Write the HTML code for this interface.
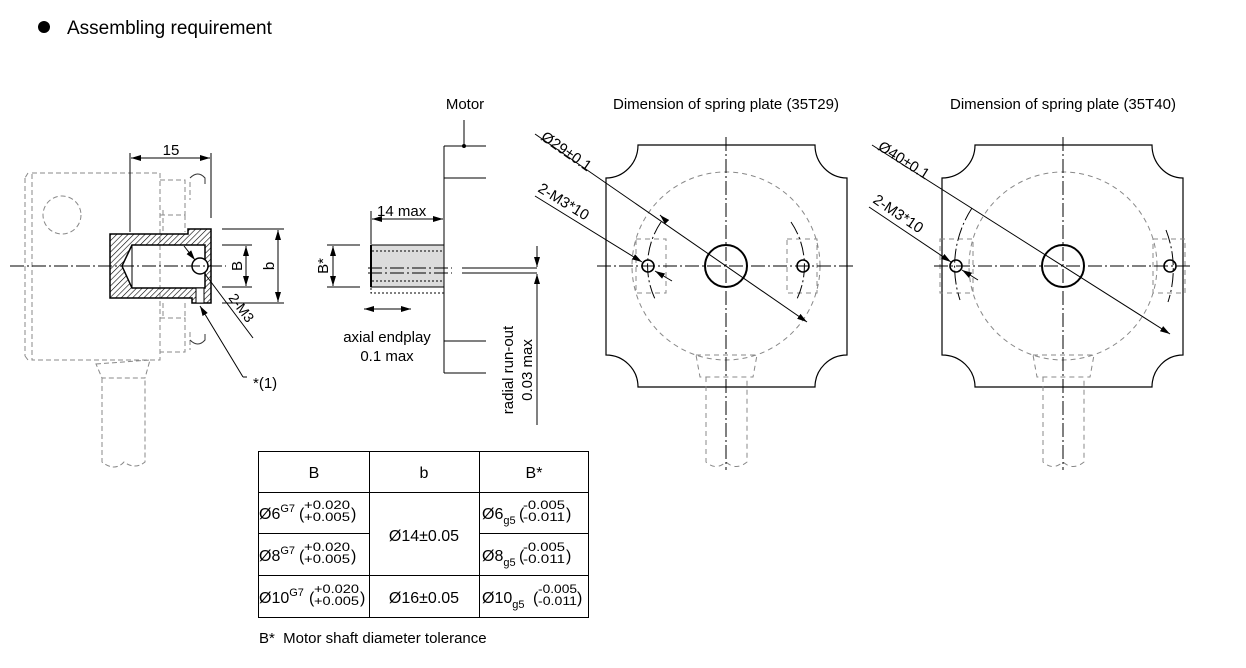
<!DOCTYPE html>
<html><head><meta charset="utf-8">
<style>
html,body{margin:0;padding:0;background:#fff;}
svg{display:block;font-family:"Liberation Sans",Arial,sans-serif;}
</style></head><body>
<svg width="1246" height="668" viewBox="0 0 1246 668" xmlns="http://www.w3.org/2000/svg">
<defs>
<pattern id="h" patternUnits="userSpaceOnUse" width="4" height="4" patternTransform="rotate(45)">
<line x1="0" y1="0" x2="0" y2="4" stroke="#000" stroke-width="1.2"/>
</pattern>
<marker id="a" markerWidth="10" markerHeight="6" refX="10" refY="3" orient="auto" markerUnits="userSpaceOnUse">
<path d="M0,0 L10,3 L0,6 z" fill="#000"/></marker>
<marker id="as" markerWidth="10" markerHeight="6" refX="0" refY="3" orient="auto" markerUnits="userSpaceOnUse">
<path d="M10,0 L0,3 L10,6 z" fill="#000"/></marker>
</defs>

<circle cx="44" cy="27" r="6" fill="#000"/>
<text x="67" y="34" font-size="19">Assembling requirement</text>

<!-- LEFT VIEW -->
<g fill="none" stroke="#888" stroke-width="1" stroke-dasharray="5,3">
<rect x="32" y="173" width="128" height="187"/>
<line x1="25" y1="178" x2="25" y2="356"/>
<path d="M28,173 L25,178 M28,360 L25,356"/>
<circle cx="62" cy="215" r="19"/>
<path d="M160,180 L185,180 L185,215 L160,215 M163,210 V 232 M185,215 V232"/>
<path d="M160,318 L185,318 L185,352 L160,352 M163,303 V318 M185,303 V318"/>
<path d="M190,182 L190,200 M190,332 L190,350"/>
<path d="M96,364 L150,360 L145,378 L102,378 Z"/>
<path d="M102,378 L102,462 Q115,472 124,462 Q135,470 145,462 L145,378"/>
</g>
<path d="M190,178 q8,-8 15,0 v6 M190,340 q8,8 15,0 v-6" fill="none" stroke="#333" stroke-width="1"/>
<path d="M110,234 L188,234 L188,229 L211,229 L211,303 L192,303 L192,298 L110,298 Z M132,245 L122,266 L132,288 L205,288 L205,245 Z" fill="url(#h)" fill-rule="evenodd" stroke="#000" stroke-width="1.5"/>
<rect x="196" y="288" width="8" height="15" fill="#fff" stroke="#000" stroke-width="1"/>
<line x1="132" y1="245" x2="132" y2="288" stroke="#000" stroke-width="1"/>
<circle cx="200" cy="266" r="8" fill="#fff" stroke="#000" stroke-width="1.5"/>
<line x1="10" y1="266" x2="226" y2="266" stroke="#000" stroke-width="1" stroke-dasharray="14,3,2,3"/>
<g stroke="#000" stroke-width="1" fill="none">
<line x1="130" y1="153" x2="130" y2="232"/>
<line x1="211" y1="153" x2="211" y2="218"/>
<line x1="131" y1="158" x2="210" y2="158" marker-start="url(#as)" marker-end="url(#a)"/>
<line x1="222" y1="245" x2="252" y2="245"/>
<line x1="222" y1="287" x2="252" y2="287"/>
<line x1="246" y1="246" x2="246" y2="286" marker-start="url(#as)" marker-end="url(#a)"/>
<line x1="222" y1="229" x2="284" y2="229"/>
<line x1="222" y1="303" x2="284" y2="303"/>
<line x1="278" y1="230" x2="278" y2="302" marker-start="url(#as)" marker-end="url(#a)"/>
<line x1="184" y1="246" x2="195" y2="260" marker-end="url(#a)"/>
<line x1="205" y1="274" x2="253" y2="338"/>
<line x1="200" y1="306" x2="243" y2="377" marker-start="url(#as)"/>
<line x1="243" y1="377" x2="247" y2="377"/>
</g>
<text x="171" y="155" font-size="15" text-anchor="middle">15</text>
<text transform="translate(242,266) rotate(-90)" font-size="15" text-anchor="middle">B</text>
<text transform="translate(274,266) rotate(-90)" font-size="15" text-anchor="middle">b</text>
<text transform="translate(228,298) rotate(53)" font-size="14">2-M3</text>
<text x="253" y="388" font-size="15">*(1)</text>

<!-- MIDDLE VIEW -->
<text x="465" y="109" font-size="15" text-anchor="middle">Motor</text>
<g stroke="#000" stroke-width="1" fill="none">
<line x1="464" y1="120" x2="464" y2="146"/>
<line x1="444" y1="146" x2="444" y2="373"/>
<line x1="444" y1="146" x2="486" y2="146"/>
<line x1="444" y1="178" x2="486" y2="178"/>
<line x1="444" y1="341" x2="486" y2="341"/>
<line x1="444" y1="373" x2="486" y2="373"/>
</g>
<circle cx="464" cy="146" r="2" fill="#000"/>
<rect x="371" y="245" width="73" height="42" fill="#dcdcdc" stroke="#000" stroke-width="1"/>
<line x1="371" y1="245" x2="371" y2="287" stroke="#000" stroke-width="2"/>
<g stroke="#000" stroke-width="1" fill="none">
<line x1="372" y1="251" x2="444" y2="251" stroke-dasharray="2,2"/>
<line x1="372" y1="281" x2="444" y2="281" stroke-dasharray="2,2"/>
<path d="M371,288 V293 H444" stroke-dasharray="2,2"/>
<line x1="368" y1="268" x2="452" y2="268" stroke-dasharray="14,3,2,3"/>
<line x1="368" y1="273" x2="452" y2="273" stroke-dasharray="14,3,2,3"/>
<line x1="462" y1="268" x2="537" y2="268"/>
<line x1="462" y1="273" x2="537" y2="273"/>
<line x1="537" y1="246" x2="537" y2="267" marker-end="url(#a)"/>
<line x1="537" y1="425" x2="537" y2="274" marker-end="url(#a)"/>
<line x1="371" y1="211" x2="371" y2="244"/>
<line x1="372" y1="219" x2="443" y2="219" marker-start="url(#as)" marker-end="url(#a)"/>
<line x1="327" y1="245" x2="360" y2="245"/>
<line x1="327" y1="287" x2="360" y2="287"/>
<line x1="333" y1="246" x2="333" y2="286" marker-start="url(#as)" marker-end="url(#a)"/>
<line x1="364" y1="309" x2="411" y2="309" marker-start="url(#as)" marker-end="url(#a)"/>
</g>
<text x="377" y="216" font-size="15">14 max</text>
<text transform="translate(328,266) rotate(-90)" font-size="15" text-anchor="middle">B*</text>
<text x="387" y="342" font-size="15" text-anchor="middle">axial endplay</text>
<text x="387" y="361" font-size="15" text-anchor="middle">0.1 max</text>
<text transform="translate(513,370) rotate(-90)" font-size="15" text-anchor="middle">radial run-out</text>
<text transform="translate(532,370) rotate(-90)" font-size="15" text-anchor="middle">0.03 max</text>

<!-- PLATE 1 -->
<text x="726" y="109" font-size="15" text-anchor="middle">Dimension of spring plate (35T29)</text>
<path d="M638,145 L815,145 A32,33 0 0 0 847,178 L847,355 A32,32 0 0 0 815,387 L638,387 A32,32 0 0 0 606,355 L606,178 A32,33 0 0 0 638,145 Z" fill="none" stroke="#000" stroke-width="1.2"/>
<g fill="none" stroke="#888" stroke-width="1" stroke-dasharray="5,4">
<circle cx="726" cy="266" r="94"/>
<rect x="636" y="239" width="30" height="54"/>
<rect x="787" y="239" width="30" height="54"/>
<path d="M696,355 L757,355 L753,377 L700,377 Z"/>
<path d="M706,377 L706,462 Q716,471 726,462 Q736,471 747,462 L747,377"/>
</g>
<g fill="none" stroke="#000" stroke-width="1" stroke-dasharray="14,3,2,3">
<line x1="597" y1="266" x2="855" y2="266"/>
<line x1="726" y1="137" x2="726" y2="470"/>
<path d="M661,222 A78,78 0 0 0 655,299"/>
<path d="M791,222 A78,78 0 0 1 797,299"/>
</g>
<circle cx="726" cy="266" r="21" fill="none" stroke="#000" stroke-width="2"/>
<circle cx="648" cy="266" r="6" fill="none" stroke="#000" stroke-width="1.6"/>
<circle cx="803" cy="266" r="6" fill="none" stroke="#000" stroke-width="1.6"/>
<g stroke="#000" stroke-width="1" fill="none">
<line x1="535" y1="134" x2="807" y2="322" marker-end="url(#a)"/>
<line x1="662" y1="217" x2="660" y2="215" marker-end="url(#a)"/>
<line x1="535" y1="196" x2="642" y2="262" marker-end="url(#a)"/>
<line x1="672" y1="281" x2="655" y2="271" marker-end="url(#a)"/>
</g>
<text transform="translate(540,139) rotate(34.7)" font-size="15">Ø29±0.1</text>
<text transform="translate(537,191) rotate(31.6)" font-size="15">2-M3*10</text>

<!-- PLATE 2 -->
<text x="1063" y="109" font-size="15" text-anchor="middle">Dimension of spring plate (35T40)</text>
<path d="M975,145 L1152,145 A31,33 0 0 0 1183,178 L1183,355 A31,32 0 0 0 1152,387 L975,387 A33,32 0 0 0 942,355 L942,178 A33,33 0 0 0 975,145 Z" fill="none" stroke="#000" stroke-width="1.2"/>
<g fill="none" stroke="#888" stroke-width="1" stroke-dasharray="5,4">
<circle cx="1063" cy="266" r="94"/>
<rect x="940" y="239" width="33" height="54"/>
<rect x="1153" y="239" width="32" height="54"/>
<path d="M1033,355 L1094,355 L1090,377 L1037,377 Z"/>
<path d="M1043,377 L1043,462 Q1053,471 1063,462 Q1073,471 1084,462 L1084,377"/>
</g>
<g fill="none" stroke="#000" stroke-width="1" stroke-dasharray="14,3,2,3">
<line x1="934" y1="266" x2="1192" y2="266"/>
<line x1="1063" y1="137" x2="1063" y2="470"/>
<path d="M972,208 A107,107 0 0 0 960,300"/>
<path d="M1166,230 A107,107 0 0 1 1168,302"/>
</g>
<circle cx="1063" cy="266" r="21" fill="none" stroke="#000" stroke-width="2"/>
<circle cx="956" cy="266" r="6" fill="none" stroke="#000" stroke-width="1.6"/>
<circle cx="1170" cy="266" r="6" fill="none" stroke="#000" stroke-width="1.6"/>
<g stroke="#000" stroke-width="1" fill="none">
<line x1="872" y1="145" x2="1170" y2="334" marker-end="url(#a)"/>
<line x1="869" y1="207" x2="951" y2="262" marker-end="url(#a)"/>
<line x1="978" y1="280" x2="962" y2="270" marker-end="url(#a)"/>
</g>
<text transform="translate(877,149) rotate(32.4)" font-size="15">Ø40±0.1</text>
<text transform="translate(872,202) rotate(34)" font-size="15">2-M3*10</text>

<!-- TABLE -->
<g stroke="#000" stroke-width="1" fill="none">
<rect x="258.5" y="451.5" width="330" height="166"/>
<line x1="369.5" y1="451" x2="369.5" y2="618"/>
<line x1="479.5" y1="451" x2="479.5" y2="618"/>
<line x1="258" y1="492.5" x2="589" y2="492.5"/>
<line x1="258" y1="533.5" x2="369" y2="533.5"/>
<line x1="480" y1="533.5" x2="589" y2="533.5"/>
<line x1="258" y1="575.5" x2="589" y2="575.5"/>
</g>
<g font-size="16">
<text x="314" y="478" text-anchor="middle">B</text>
<text x="424" y="478" text-anchor="middle">b</text>
<text x="534" y="478" text-anchor="middle">B*</text>
<text x="424" y="541" text-anchor="middle">Ø14±0.05</text>
<text x="424" y="603" text-anchor="middle">Ø16±0.05</text>

<text x="259" y="519">Ø6<tspan font-size="11" dy="-7">G7</tspan></text>
<text x="299" y="519">(</text><text x="304" y="509" font-size="12" textLength="46" lengthAdjust="spacingAndGlyphs">+0.020</text><text x="304" y="521" font-size="12" textLength="46" lengthAdjust="spacingAndGlyphs">+0.005</text><text x="351" y="519">)</text>
<text x="259" y="561">Ø8<tspan font-size="11" dy="-7">G7</tspan></text>
<text x="299" y="561">(</text><text x="304" y="551" font-size="12" textLength="46" lengthAdjust="spacingAndGlyphs">+0.020</text><text x="304" y="563" font-size="12" textLength="46" lengthAdjust="spacingAndGlyphs">+0.005</text><text x="351" y="561">)</text>
<text x="259" y="603">Ø10<tspan font-size="11" dy="-7">G7</tspan></text>
<text x="309" y="603">(</text><text x="314" y="593" font-size="12" textLength="45" lengthAdjust="spacingAndGlyphs">+0.020</text><text x="314" y="605" font-size="12" textLength="45" lengthAdjust="spacingAndGlyphs">+0.005</text><text x="360" y="603">)</text>

<text x="482" y="519">Ø6<tspan font-size="11" dy="5">g5</tspan></text>
<text x="519" y="519">(</text><text x="523" y="509" font-size="12" textLength="42" lengthAdjust="spacingAndGlyphs">-0.005</text><text x="523" y="521" font-size="12" textLength="42" lengthAdjust="spacingAndGlyphs">-0.011</text><text x="566" y="519">)</text>
<text x="482" y="561">Ø8<tspan font-size="11" dy="5">g5</tspan></text>
<text x="519" y="561">(</text><text x="523" y="551" font-size="12" textLength="42" lengthAdjust="spacingAndGlyphs">-0.005</text><text x="523" y="563" font-size="12" textLength="42" lengthAdjust="spacingAndGlyphs">-0.011</text><text x="566" y="561">)</text>
<text x="482" y="603">Ø10<tspan font-size="11" dy="5">g5</tspan></text>
<text x="533" y="603">(</text><text x="538" y="593" font-size="12" textLength="39" lengthAdjust="spacingAndGlyphs">-0.005</text><text x="538" y="605" font-size="12" textLength="39" lengthAdjust="spacingAndGlyphs">-0.011</text><text x="577" y="603">)</text>
</g>
<text x="259" y="643" font-size="15" xml:space="preserve">B*  Motor shaft diameter tolerance</text>
</svg>
</body></html>
